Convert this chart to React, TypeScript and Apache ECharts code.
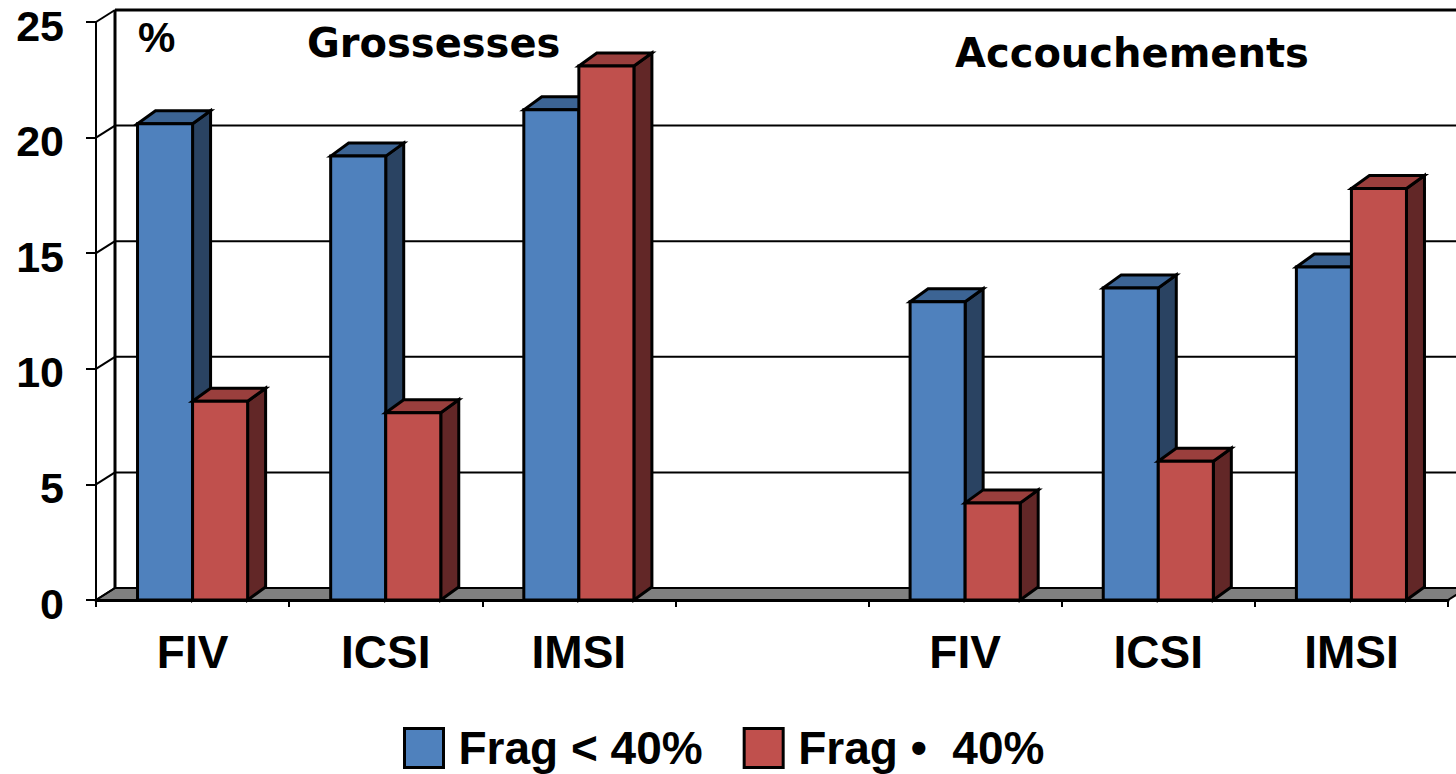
import React, { useEffect, useRef } from "react";
import * as echarts from "echarts";

const categories = ["FIV", "ICSI", "IMSI", "", "FIV", "ICSI", "IMSI"];
const seriesNames = ["Frag < 40%", "Frag •  40%"];
const fragLow = [20.6, 19.2, 21.2, null, 12.9, 13.5, 14.4];
const fragHigh = [8.6, 8.1, 23.1, null, 4.2, 6.0, 17.8];
const yTicks = [0, 5, 10, 15, 20, 25];
const panelTitles = ["Grossesses", "Accouchements"];
const unitLabel = "%";

const FONT = "'Liberation Sans', Arial, sans-serif";
const TITLE_FONT = "'DejaVu Sans', 'Liberation Sans', sans-serif";
const BAR_DX = 18;
const BAR_DY = 13;
const WALL_DX = 19;
const WALL_DY = 12;

const palettes = [
  { front: "#4F81BD", top: "#3C6494", side: "#2A4362" },
  { front: "#C0504D", top: "#9A3F3D", side: "#622727" },
];

function barRenderer(seriesIdx: number) {
  return (params: any, api: any) => {
    const idx = api.value(0);
    const v = api.value(1);
    const base = api.coord([idx, 0]);
    const top = api.coord([idx, v]);
    const catW = api.size([1, 0])[0];
    const bw = catW * 0.285;
    const x0 = seriesIdx === 0 ? base[0] - bw : base[0];
    const x1 = x0 + bw;
    const yb = base[1];
    const yt = top[1];
    const p = palettes[seriesIdx];
    const stroke = { stroke: "#000", lineWidth: 3, lineJoin: "miter" };
    return {
      type: "group",
      children: [
        {
          type: "polygon",
          shape: { points: [[x1, yb], [x1 + BAR_DX, yb - BAR_DY], [x1 + BAR_DX, yt - BAR_DY], [x1, yt]] },
          style: { fill: p.side, ...stroke },
        },
        {
          type: "polygon",
          shape: { points: [[x0, yt], [x0 + BAR_DX, yt - BAR_DY], [x1 + BAR_DX, yt - BAR_DY], [x1, yt]] },
          style: { fill: p.top, ...stroke },
        },
        {
          type: "rect",
          shape: { x: x0, y: yt, width: bw, height: yb - yt },
          style: { fill: p.front, ...stroke },
        },
      ],
    };
  };
}

function frameRenderer(params: any, api: any) {
  const cs = params.coordSys;
  const x = cs.x;
  const w = cs.width;
  const children: any[] = [];
  const y0 = api.coord([0, 0])[1];
  const yTop = api.coord([0, yTicks[yTicks.length - 1]])[1];
  children.push({
    type: "polygon",
    shape: { points: [[x, y0], [x + WALL_DX, y0 - WALL_DY], [x + w + WALL_DX, y0 - WALL_DY], [x + w, y0]] },
    style: { fill: "#808080", stroke: "#000", lineWidth: 2 },
  });
  yTicks.forEach((t) => {
    const yv = api.coord([0, t])[1];
    if (t > 0) {
      children.push({
        type: "line",
        shape: { x1: x + WALL_DX, y1: yv - WALL_DY, x2: x + w + WALL_DX, y2: yv - WALL_DY },
        style: { stroke: "#000", lineWidth: t === yTicks[yTicks.length - 1] ? 3 : 2 },
      });
    }
    children.push({
      type: "line",
      shape: { x1: x, y1: yv, x2: x + WALL_DX, y2: yv - WALL_DY },
      style: { stroke: "#000", lineWidth: 2 },
    });
    children.push({
      type: "text",
      style: {
        text: String(t),
        x: x - 32,
        y: yv - 18,
        align: "right",
        verticalAlign: "top",
        fontSize: 43,
        fontWeight: "bold",
        fontFamily: FONT,
        fill: "#000",
      },
    });
  });
  children.push({
    type: "line",
    shape: { x1: x + WALL_DX, y1: yTop - WALL_DY, x2: x + WALL_DX, y2: y0 - WALL_DY },
    style: { stroke: "#000", lineWidth: 3 },
  });
  return { type: "group", children };
}

export default function App() {
  const ref = useRef<HTMLDivElement>(null);
  useEffect(() => {
    if (!ref.current) return;
    const chart = echarts.init(ref.current, null, { renderer: "svg" });
    const toData = (arr: (number | null)[]) =>
      arr.map((v, i) => (v == null ? null : [i, v])).filter((d) => d != null);
    chart.setOption({
      animation: false,
      backgroundColor: "#fff",
      textStyle: { fontFamily: FONT },
      grid: { left: 96, right: 8, top: 22, bottom: 174, containLabel: false, outerBoundsMode: "none" },
      xAxis: {
        type: "category",
        data: categories,
        boundaryGap: true,
        axisLine: { show: true, lineStyle: { color: "#000", width: 3 } },
        axisTick: { show: true, interval: 0, length: 7, lineStyle: { color: "#000", width: 2 } },
        axisLabel: { interval: 0, margin: 29, color: "#000", fontSize: 46, fontWeight: "bold", fontFamily: FONT },
        splitLine: { show: false },
        z: 5,
      },
      yAxis: {
        type: "value",
        min: 0,
        max: 25,
        interval: 5,
        axisLine: { show: true, lineStyle: { color: "#000", width: 2 } },
        axisTick: { show: true, length: 10, lineStyle: { color: "#000", width: 2 } },
        axisLabel: { show: false },
        splitLine: { show: false },
      },
      legend: {
        data: seriesNames,
        bottom: -2,
        left: 398,
        icon: "rect",
        itemWidth: 39,
        itemHeight: 39,
        itemGap: 40,
        itemStyle: { borderColor: "#000", borderWidth: 3 },
        textStyle: { color: "#000", fontSize: 46, fontWeight: "bold", fontFamily: FONT, padding: [0, 0, 0, 10] },
      },
      graphic: [
        { type: "text", left: 138, top: 16, style: { text: unitLabel, fontSize: 42, fontWeight: "bold", fontFamily: FONT, fill: "#000" } },
        { type: "text", left: 307, top: 23, style: { text: panelTitles[0], fontSize: 40, fontWeight: "bold", fontFamily: TITLE_FONT, fill: "#000" } },
        { type: "text", left: 955, top: 33, style: { text: panelTitles[1], fontSize: 40, fontWeight: "bold", fontFamily: TITLE_FONT, fill: "#000" } },
      ],
      series: [
        {
          type: "custom",
          name: "frame",
          silent: true,
          z: 1,
          renderItem: frameRenderer,
          data: [[0, 0]],
          clip: false,
        },
        {
          type: "custom",
          name: seriesNames[0],
          z: 3,
          itemStyle: { color: palettes[0].front },
          renderItem: barRenderer(0),
          data: toData(fragLow),
          clip: false,
        },
        {
          type: "custom",
          name: seriesNames[1],
          z: 4,
          itemStyle: { color: palettes[1].front },
          renderItem: barRenderer(1),
          data: toData(fragHigh),
          clip: false,
        },
      ],
    });
    return () => chart.dispose();
  }, []);
  return <div ref={ref} style={{ width: 1456, height: 774, position: "absolute", left: 0, top: 0 }} />;
}
